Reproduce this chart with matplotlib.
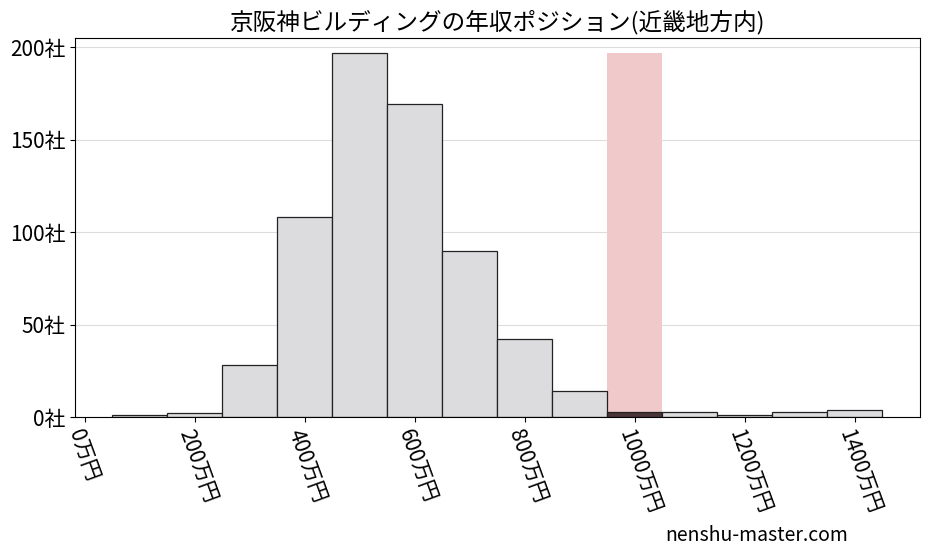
import matplotlib.pyplot as plt

plt.rcParams['font.family'] = ['Noto Sans CJK JP', 'DejaVu Sans']

bin_left = [50, 150, 250, 350, 450, 550, 650, 750, 850, 950, 1050, 1150, 1250, 1350]
counts = [1, 2, 28, 108, 197, 169, 90, 42, 14, 3, 3, 1, 3, 4]
highlight_bin = 950
xticks = [0, 200, 400, 600, 800, 1000, 1200, 1400]
yticks = [0, 50, 100, 150, 200]

fig = plt.figure(figsize=(9.27, 5.57), dpi=100)
ax = fig.add_axes([0.081, 0.251, 0.911, 0.681])

# ハイライト帯
ax.bar(highlight_bin, max(counts), width=100, align='edge', color='#f0caca', zorder=1)

for left, c in zip(bin_left, counts):
    color = '#4a3538' if left == highlight_bin else '#dcdcde'
    ax.bar(left, c, width=100, align='edge', color=color, edgecolor='#222222',
           linewidth=0.9, zorder=2)

ax.set_xlim(-18, 1518)
ax.set_ylim(0, 205)
ax.set_xticks(xticks)
ax.set_xticklabels([f"{v}万円" for v in xticks], rotation=-70, ha='left',
                   rotation_mode='anchor', fontsize=15)
ax.set_yticks(yticks)
ax.set_yticklabels([f"{v}社" for v in yticks], fontsize=15)
ax.grid(axis='y', color='#dddddd', linewidth=0.8, zorder=0)
ax.set_axisbelow(True)
ax.set_title("京阪神ビルディングの年収ポジション(近畿地方内)", fontsize=17, pad=6)

fig.text(0.915, 0.02, "nenshu-master.com", ha='right', va='bottom', fontsize=14)

fig.savefig("out.png", dpi=100)
